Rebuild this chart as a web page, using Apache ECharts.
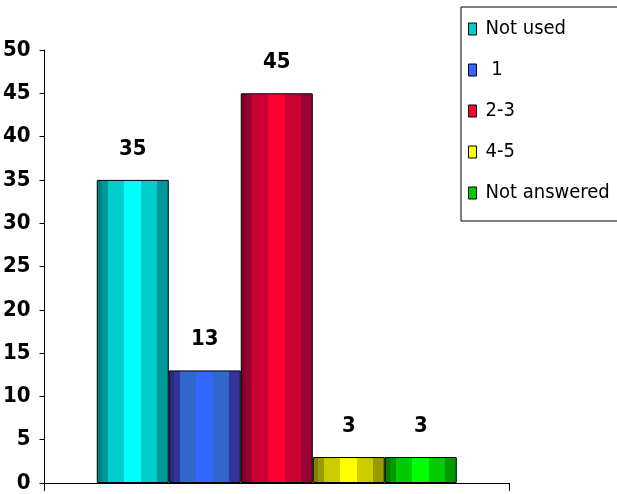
<!DOCTYPE html>
<html><head><meta charset="utf-8">
<script src="https://cdn.jsdelivr.net/npm/echarts@6/dist/echarts.min.js"></script>
<style>html,body{margin:0;padding:0;background:#fff}#c{width:617px;height:494px}</style>
</head><body><div id="c"></div>
<script>
const seriesNames = ['Not used', ' 1', '2-3', '4-5', 'Not answered'];
const values = [35, 13, 45, 3, 3];
const yTicks = [0, 5, 10, 15, 20, 25, 30, 35, 40, 45, 50];
const palettes = [
  {dark: '#009999', deep: '#008080', mid: '#00cccc', light: '#00ffff'},
  {dark: '#333399', deep: '#2a2a80', mid: '#3366cc', light: '#3366ff'},
  {dark: '#990033', deep: '#800020', mid: '#cc0033', light: '#ff0033'},
  {dark: '#999900', deep: '#808000', mid: '#cccc00', light: '#ffff00'},
  {dark: '#009900', deep: '#008000', mid: '#00cc00', light: '#00ff00'}
];
const legendColors = ['#00cccc', '#3366ff', '#ff0033', '#ffff00', '#00cc00'];
const FONT = '"DejaVu Sans Condensed", "Liberation Sans Narrow", sans-serif';
function stripes(p) {
  return {type: 'linear', x: 0, y: 0, x2: 1, y2: 0, colorStops: [
    {offset: 0, color: p.deep}, {offset: 0.07, color: p.deep},
    {offset: 0.07, color: p.dark}, {offset: 0.16, color: p.dark},
    {offset: 0.16, color: p.mid}, {offset: 0.38, color: p.mid},
    {offset: 0.38, color: p.light}, {offset: 0.62, color: p.light},
    {offset: 0.62, color: p.mid}, {offset: 0.84, color: p.mid},
    {offset: 0.84, color: p.dark}, {offset: 1, color: p.dark}
  ]};
}
const chart = echarts.init(document.getElementById('c'));
chart.setOption({
  animation: false,
  backgroundColor: '#ffffff',
  grid: {left: 42, right: 108, top: 50, bottom: 8, containLabel: false},
  legend: {
    orient: 'vertical', left: 461, top: 7,
    padding: [12, 80, 18, 7],
    borderColor: '#000', borderWidth: 1,
    itemWidth: 8, itemHeight: 12, itemGap: 21,
    textStyle: {fontFamily: FONT, fontSize: 20, color: '#000', padding: [0, 0, 0, 4]},
    data: seriesNames.map((n, i) => ({name: n, icon: 'rect',
      itemStyle: {color: legendColors[i], borderColor: '#000', borderWidth: 1}}))
  },
  xAxis: {
    type: 'category', data: [''],
    axisLine: {lineStyle: {color: '#000', width: 1}},
    axisTick: {show: true, length: 8, lineStyle: {color: '#000'}},
    axisLabel: {show: false}
  },
  yAxis: {
    type: 'value', min: yTicks[0], max: yTicks[yTicks.length - 1], interval: 5,
    axisLine: {show: true, lineStyle: {color: '#000', width: 1}},
    axisTick: {show: true, length: 5, lineStyle: {color: '#000'}},
    splitLine: {show: false},
    axisLabel: {fontFamily: FONT, fontWeight: 'bold', fontSize: 22, color: '#000', margin: 14}
  },
  series: seriesNames.map((n, i) => ({
    name: n, type: 'bar', data: [values[i]],
    barWidth: 72, barGap: '0%',
    itemStyle: {color: stripes(palettes[i]), borderColor: '#000', borderWidth: 1},
    label: {show: true, position: 'top', distance: 20, fontFamily: FONT, fontWeight: 'bold', fontSize: 22, color: '#000'}
  }))
});
</script></body></html>
